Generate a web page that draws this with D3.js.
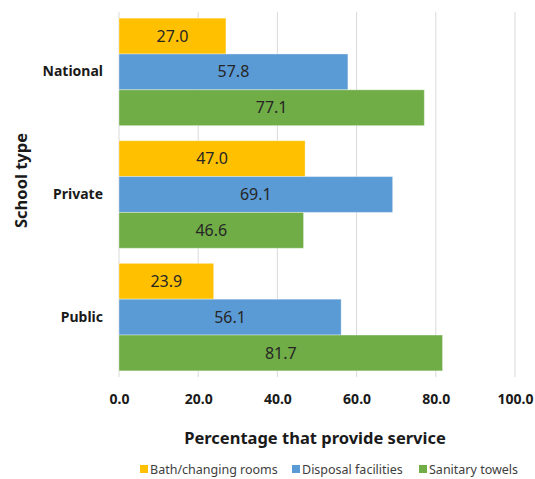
<!DOCTYPE html>
<html>
<head>
<meta charset="utf-8">
<script src="https://cdn.jsdelivr.net/npm/d3@7"></script>
<style>
  html, body { margin: 0; padding: 0; background: #fff; }
  svg { display: block; font-family: "Noto Sans", "Open Sans", sans-serif; }
</style>
</head>
<body>
<svg id="chart" width="535" height="479"></svg>
<script>
// School types shown top to bottom
const schoolTypes = ["National", "Private", "Public"];
// Services, in the order drawn within each group
const services = ["Bath/changing rooms", "Disposal facilities", "Sanitary towels"];
const serviceColors = ["#FFC000", "#5B9BD5", "#70AD47"];
// Percentage of schools providing each service, per school type
const bathChanging = [27.0, 47.0, 23.9];
const disposal = [57.8, 69.1, 56.1];
const sanitaryTowels = [77.1, 46.6, 81.7];
const xTicks = [0, 20, 40, 60, 80, 100];

const seriesValues = [bathChanging, disposal, sanitaryTowels];

const svg = d3.select("#chart");
const margin = { left: 119, right: 20, top: 12, bottom: 102 };
const height = 479 - margin.top - margin.bottom;

const g = svg.append("g").attr("transform", `translate(${margin.left},${margin.top})`);

const x = d3.scaleLinear().domain([0, 100]).range([0, 396]);
const y0 = d3.scaleBand().domain(schoolTypes).range([0, height]).paddingInner(0.123).paddingOuter(0.05);
const y1 = d3.scaleBand().domain(services).range([0, y0.bandwidth()]);

// Vertical gridlines
g.append("g")
  .selectAll("line")
  .data(xTicks)
  .join("line")
  .attr("x1", d => x(d)).attr("x2", d => x(d))
  .attr("y1", 0).attr("y2", height)
  .attr("stroke", "#d9d9d9")
  .attr("stroke-width", 1);

// Bars
const groups = g.append("g")
  .selectAll("g")
  .data(schoolTypes)
  .join("g")
  .attr("transform", d => `translate(0,${y0(d)})`);

const rows = (d, i) => services.map((s, j) => ({ s, j, v: seriesValues[j][i] }));

groups.selectAll("rect")
  .data(rows)
  .join("rect")
  .attr("x", x(0))
  .attr("y", d => y1(d.s))
  .attr("width", d => x(d.v) - x(0))
  .attr("height", y1.bandwidth())
  .attr("fill", d => serviceColors[d.j])
  .attr("stroke", "rgba(255,255,255,0.35)")
  .attr("stroke-width", 1);

groups.selectAll("text")
  .data(rows)
  .join("text")
  .attr("x", d => (x(0) + x(d.v)) / 2)
  .attr("y", d => y1(d.s) + y1.bandwidth() / 2)
  .attr("dy", "0.35em")
  .attr("text-anchor", "middle")
  .attr("font-size", 16)
  .attr("fill", "#262626")
  .text(d => d.v.toFixed(1));

// X axis tick labels
const xAxis = d3.axisBottom(x).tickValues(xTicks).tickSize(0).tickPadding(17)
  .tickFormat(d => d.toFixed(1));
const xa = g.append("g").attr("transform", `translate(0,${height})`).call(xAxis);
xa.select(".domain").remove();
xa.selectAll("text").attr("font-size", 14).attr("font-weight", "bold").attr("fill", "#1a1a1a")
  .attr("font-family", "\"Noto Sans\", sans-serif");

// Y axis category labels
const yAxis = d3.axisLeft(y0).tickSize(0).tickPadding(16);
const ya = g.append("g").call(yAxis);
ya.select(".domain").remove();
ya.selectAll("text").attr("font-size", 14).attr("font-weight", "bold").attr("fill", "#1a1a1a")
  .attr("font-family", "\"Noto Sans\", sans-serif");

// Axis titles
svg.append("text")
  .attr("x", margin.left + x(50) - 2)
  .attr("y", 444)
  .attr("text-anchor", "middle")
  .attr("font-size", 16.5)
  .attr("font-weight", "bold")
  .attr("fill", "#1a1a1a")
  .text("Percentage that provide service");

svg.append("text")
  .attr("transform", `translate(27,${margin.top + height / 2 - 14}) rotate(-90)`)
  .attr("text-anchor", "middle")
  .attr("font-size", 16.5)
  .attr("font-weight", "bold")
  .attr("fill", "#1a1a1a")
  .text("School type");

// Legend
const legendX = [140, 292, 419];
const legend = svg.append("g").selectAll("g")
  .data(services)
  .join("g")
  .attr("transform", (d, i) => `translate(${legendX[i]},465)`);
legend.append("rect")
  .attr("width", 8).attr("height", 8)
  .attr("fill", (d, i) => serviceColors[i]);
legend.append("text")
  .attr("x", 10).attr("y", 4).attr("dy", "0.36em")
  .attr("font-size", 12.5)
  .attr("fill", "#404040")
  .text(d => d);
</script>
</body>
</html>
